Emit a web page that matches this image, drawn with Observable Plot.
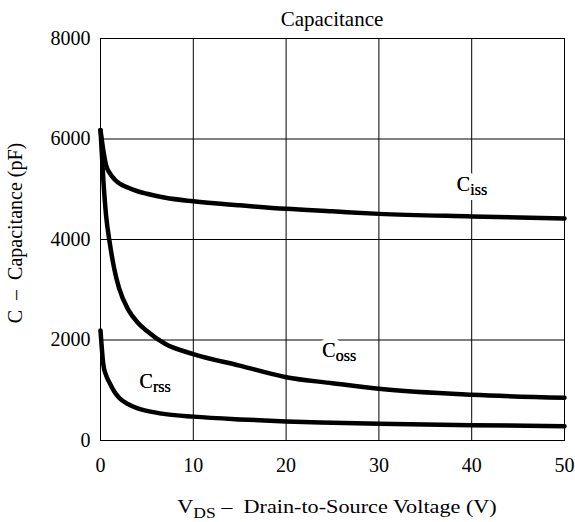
<!DOCTYPE html>
<html>
<head>
<meta charset="utf-8">
<script src="https://cdn.jsdelivr.net/npm/d3@7"></script>
<script src="https://cdn.jsdelivr.net/npm/@observablehq/plot@0.6"></script>
<style>
  body { margin: 0; background: #fff; }
  svg { font-family: "Liberation Serif", "Times New Roman", serif; }
</style>
</head>
<body>
<div id="chart"></div>
<script>
// ---- data ----
const vds  = [0, 0.3, 0.6, 1, 1.5, 2, 3, 4, 5, 7, 10, 15, 20, 25, 30, 40, 50];
const ciss = [6180, 5780, 5480, 5320, 5200, 5120, 5030, 4960, 4910, 4830, 4760, 4680, 4610, 4560, 4510, 4460, 4420];
const coss = [6180, 5200, 4480, 3930, 3400, 3030, 2600, 2350, 2180, 1920, 1720, 1490, 1260, 1140, 1030, 910, 850];
const crss = [2190, 1520, 1300, 1140, 970, 850, 720, 640, 590, 525, 475, 420, 380, 355, 335, 305, 285];

const xTicks = [0, 10, 20, 30, 40, 50];
const yTicks = [0, 2000, 4000, 6000, 8000];

const seriesNames = ["Ciss", "Coss", "Crss"];
const seriesValues = [ciss, coss, crss];

const labelMain = ["C", "C", "C"];
const labelSub  = ["iss", "oss", "rss"];
const labelV    = [38.4, 23.9, 4.2];
const labelC    = [4975, 1652, 1035];

const titleText = "Capacitance";
const yTitle = "C \u00a0\u2013\u00a0 Capacitance (pF)";
const xTitleMain = "V";
const xTitleSub = "DS";
const xTitleRest = "\u00a0\u2013\u00a0\u00a0Drain-to-Source Voltage (V)";

// ---- tables built from the arrays ----
const rows = seriesNames.flatMap((s, k) => vds.map((v, i) => ({series: s, v, c: seriesValues[k][i]})));
const labels = labelMain.map((m, i) => ({main: m, sub: labelSub[i], v: labelV[i], c: labelC[i]}));

const FS = 20;
const SUB = 16;

const plot = Plot.plot({
  width: 575,
  height: 522,
  marginLeft: 100,
  marginRight: 11,
  marginTop: 38,
  marginBottom: 82,
  style: {fontFamily: "'Liberation Serif', 'Times New Roman', serif", fontSize: FS + "px", background: "white", color: "black", overflow: "visible"},
  x: {domain: [0, 50], ticks: xTicks, tickSize: 0, tickPadding: 17, label: null},
  y: {domain: [0, 8000], ticks: yTicks, tickSize: 0, tickPadding: 10, label: null, tickFormat: d3.format("d")},
  marks: [
    Plot.gridX(xTicks, {stroke: "black", strokeOpacity: 1, strokeWidth: 1}),
    Plot.gridY(yTicks, {stroke: "black", strokeOpacity: 1, strokeWidth: 1}),
    Plot.frame({stroke: "black", strokeWidth: 1}),
    Plot.line(rows, {x: "v", y: "c", z: "series", stroke: "black", strokeWidth: 4.5, curve: "monotone-x", strokeLinecap: "round", strokeLinejoin: "round"}),
    Plot.text(labels, {x: "v", y: "c", text: "main", textAnchor: "start", lineAnchor: "bottom", fontSize: FS, fill: "black", stroke: "white", strokeWidth: 10}),
    Plot.text(labels, {x: "v", y: "c", text: "sub", textAnchor: "start", lineAnchor: "bottom", dx: 13.5, dy: 4, fontSize: SUB, fill: "black", stroke: "white", strokeWidth: 10}),
    Plot.text(labels, {x: "v", y: "c", text: "main", textAnchor: "start", lineAnchor: "bottom", fontSize: FS, fill: "black"}),
    Plot.text(labels, {x: "v", y: "c", text: "sub", textAnchor: "start", lineAnchor: "bottom", dx: 13.5, dy: 4, fontSize: SUB, fill: "black"})
  ]
});

// axis titles and chart title, placed from the scales' ranges
const svg = d3.select(plot);
const xr = plot.scale("x").range;
const yr = plot.scale("y").range;
const cx = (xr[0] + xr[1]) / 2;
const cy = (yr[0] + yr[1]) / 2;

svg.append("text")
  .attr("x", cx).attr("y", yr[1] - 12)
  .attr("text-anchor", "middle")
  .attr("font-size", 21)
  .text(titleText);

const xt = svg.append("text")
  .attr("transform", `translate(${cx + 5},${yr[0] + 73}) scale(1.17,1)`)
  .attr("text-anchor", "middle")
  .attr("font-size", 19);
xt.append("tspan").text(xTitleMain);
xt.append("tspan").attr("font-size", 15).attr("dy", 5).text(xTitleSub);
xt.append("tspan").attr("dy", -5).text(xTitleRest);

svg.append("text")
  .attr("transform", `translate(22,${cy - 6}) rotate(-90)`)
  .attr("text-anchor", "middle")
  .attr("font-size", FS)
  .text(yTitle);

document.getElementById("chart").appendChild(plot);
</script>
</body>
</html>
